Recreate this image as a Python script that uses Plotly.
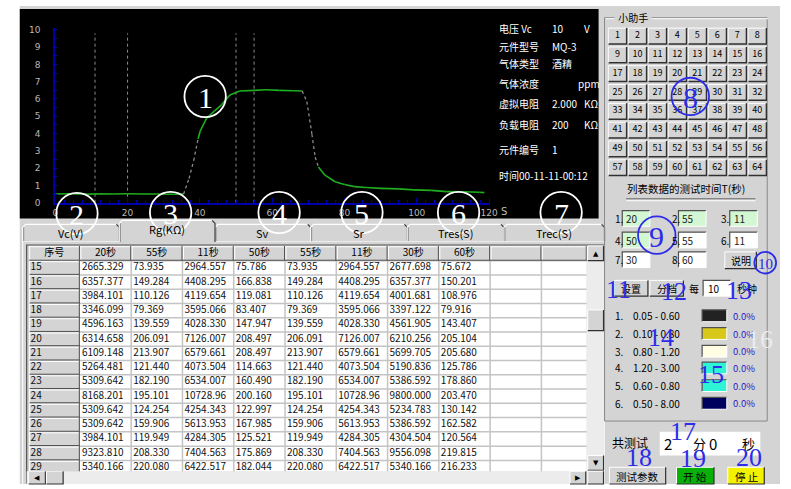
import plotly.graph_objects as go

W, H = 791, 489
FONT = "Noto Sans CJK SC"
SERIF = "Liberation Serif"
GRAY = "#d4d4d4"
MID = "#8a8a8a"
AXBLUE = "#0000a8"
MARK = "#2c2ce8"

# ---------------- data ----------------
t_curve = [0, 4, 8, 12, 16, 20, 24, 28, 32, 35.5, 37, 38.3, 39.5, 40.1, 41.9, 44, 46, 48.3, 51,
           55, 58.3, 62, 66, 68.3, 69.6, 71, 71.9, 72.8, 74.6, 77.4, 80, 82.8, 86, 90.1, 95,
           99.2, 104, 108.3, 113, 117.3, 118.7]
v_curve = [0.5, 0.52, 0.49, 0.51, 0.5, 0.52, 0.5, 0.5, 0.49, 0.5, 1.4, 2.44, 3.7, 4.15, 4.9, 5.3,
           5.66, 6.23, 6.46, 6.5, 6.53, 6.5, 6.48, 6.46, 5.85, 3.96, 2.63, 2.06, 1.59, 1.21, 1.05,
           0.93, 0.88, 0.83, 0.8, 0.74, 0.71, 0.64, 0.63, 0.6, 0.58]
steep_windows = [(35.5, 39.5), (68.3, 72.8)]
marker_times = [11, 20, 50, 55]
x_ticks = [0, 20, 40, 60, 80, 100, 120]
y_ticks = list(range(0, 11))

info_labels = ["电压 Vc", "元件型号", "气体类型", "气体浓度", "虚拟电阻", "负载电阻", "元件编号"]
info_values = ["10", "MQ-3", "酒精", "", "2.000", "200", "1"]
info_units = ["V", "", "", "ppm", "KΩ", "KΩ", ""]
time_text = "时间00-11-11-00:12"

tab_labels = ["Vc(V)", "Rg(KΩ)", "Sv", "Sr", "Tres(S)", "Trec(S)"]
test_times = [20, 55, 11, 50, 55, 11, 30, 60]
test_green = [True, True, True, True, False, False, False, False]

row_ids = [str(i) for i in range(15, 30)]
col_20s = ["2665.329", "6357.377", "3984.101", "3346.099", "4596.163", "6314.658", "6109.148",
           "5264.481", "5309.642", "8168.201", "5309.642", "5309.642", "3984.101", "9323.810", "5340.166"]
col_55s = ["73.935", "149.284", "110.126", "79.369", "139.559", "206.091", "213.907", "121.440",
           "182.190", "195.101", "124.254", "159.906", "119.949", "208.330", "220.080"]
col_11s = ["2964.557", "4408.295", "4119.654", "3595.066", "4028.330", "7126.007", "6579.661",
           "4073.504", "6534.007", "10728.96", "4254.343", "5613.953", "4284.305", "7404.563", "6422.517"]
col_50s = ["75.786", "166.838", "119.081", "83.407", "147.947", "208.497", "208.497", "114.663",
           "160.490", "200.160", "122.997", "167.985", "125.521", "175.869", "182.044"]
col_55s_b = list(col_55s)
col_11s_b = list(col_11s)
col_30s = ["2677.698", "6357.377", "4001.681", "3397.122", "4561.905", "6210.256", "5699.705",
           "5190.836", "5386.592", "9800.000", "5234.783", "5386.592", "4304.504", "9556.098", "5340.166"]
col_60s = ["75.672", "150.201", "108.976", "79.916", "143.407", "205.104", "205.680", "125.786",
           "178.860", "203.470", "130.142", "162.582", "120.564", "219.815", "216.233"]

band_labels = ["0.05 - 0.60", "0.10 - 0.80", "0.80 - 1.20", "1.20 - 3.00", "0.60 - 0.80", "0.50 - 8.00"]
band_colors = ["#222222", "#d8c81c", "#fffde2", "#2ef4d6", "#2ef4d6", "#00005e"]
band_pct = ["0.0%"] * 6

helper_buttons = list(range(1, 65))
interval_sec = "10"
total_min, total_sec = "2", "0"

# ---------------- helpers ----------------
def X(px):
    return px / W


def Y(py):
    return 1 - py / H


shapes, anns = [], []


def rect(x0, y0, x1, y1, fill, line=None, lw=1, layer="below"):
    shapes.append(dict(type="rect", xref="paper", yref="paper", x0=X(x0), x1=X(x1), y0=Y(y1), y1=Y(y0),
                       fillcolor=fill, layer=layer,
                       line=dict(color=line if line else "rgba(0,0,0,0)", width=lw if line else 0)))


def poly(points, color, width=1, dash=None, layer="below"):
    d = "M " + " L ".join(f"{X(x):.5f},{Y(y):.5f}" for x, y in points)
    ln = dict(color=color, width=width)
    if dash:
        ln["dash"] = dash
    shapes.append(dict(type="path", xref="paper", yref="paper", path=d, line=ln, layer=layer))


def raised(x0, y0, x1, y1, fill=GRAY):
    rect(x0, y0, x1, y1, fill)
    poly([(x0, y1), (x0, y0), (x1, y0)], "#ffffff", 1)
    poly([(x0, y1), (x1, y1), (x1, y0)], "#303030", 1.2)


def sunken(x0, y0, x1, y1, fill="white"):
    rect(x0, y0, x1, y1, fill)
    poly([(x0, y1), (x0, y0), (x1, y0)], "#505050", 1.2)
    poly([(x0, y1), (x1, y1), (x1, y0)], "#ffffff", 1)


def txt(x, y, s, size=10, color="black", anchor="left", family=FONT, bg=None):
    a = dict(x=X(x), y=Y(y), xref="paper", yref="paper", text=s, showarrow=False, xanchor=anchor,
             yanchor="middle", font=dict(size=size, color=color, family=family))
    if bg:
        a["bgcolor"] = bg
    anns.append(a)


def circ(cx, cy, r, label, color, size):
    shapes.append(dict(type="circle", xref="paper", yref="paper", x0=X(cx - r), x1=X(cx + r),
                       y0=Y(cy + r), y1=Y(cy - r), line=dict(color=color, width=1.8), layer="above"))
    txt(cx, cy + 1, label, size=size, color=color, anchor="center", family=SERIF)


def dpath(ref_x, ref_y, segs, color, width):
    d = " ".join(f"M {a},{b} L {c},{e}" for a, b, c, e in segs)
    shapes.append(dict(type="path", xref=ref_x, yref=ref_y, path=d, line=dict(color=color, width=width),
                       layer="below"))


# ---------------- backgrounds ----------------
rect(17, 3, 788, 489, GRAY)
rect(17, 6, 604, 219, "#000000")

# ---------------- chart traces ----------------
fig = go.Figure()

for t in marker_times:
    fig.add_trace(go.Scatter(x=[t, t], y=[0, 9.8], mode="lines",
                             line=dict(color="#8c8c8c", width=1, dash="dot"), hoverinfo="skip"))

gx, gy, sx, sy = [], [], [], []
for i in range(len(t_curve) - 1):
    a, b = t_curve[i], t_curve[i + 1]
    steep = any(lo <= a and b <= hi for lo, hi in steep_windows)
    tx, ty = (sx, sy) if steep else (gx, gy)
    tx += [a, b, None]
    ty += [v_curve[i], v_curve[i + 1], None]
fig.add_trace(go.Scatter(x=gx, y=gy, mode="lines", line=dict(color="#1fae1f", width=1.6), hoverinfo="skip"))
fig.add_trace(go.Scatter(x=sx, y=sy, mode="lines", line=dict(color="#8a8a8a", width=1.3, dash="dot"),
                         hoverinfo="skip"))

# black-panel info text
info_y = [26, 44, 62, 82, 102, 124, 149]
for lab, val, unit, yy in zip(info_labels, info_values, info_units, info_y):
    txt(501, yy, lab, 10, "white")
    if val:
        txt(555, yy, val, 10, "white")
    if unit:
        txt(581 if unit == "ppm" else 587, yy, unit, 10, "white")
txt(501, 175, time_text, 10, "white")
txt(503, 212, "S", 10, "#bdbdbd", family="DejaVu Sans")

# ---------------- tabs + table panel ----------------
rect(20, 242, 610, 489, GRAY)
poly([(20, 489), (20, 242), (610, 242)], "#ffffff", 1)
poly([(610, 242), (610, 489)], "#404040", 1)
tab_x = [20, 118, 215, 312, 410, 508, 610]
order = [0, 2, 3, 4, 5, 1]
for i in order:
    x0, x1 = tab_x[i], tab_x[i + 1]
    top, bot = (221, 243) if i == 1 else (225, 242)
    rect(x0, top, x1, bot, GRAY)
    poly([(x0, bot), (x0, top + 3), (x0 + 3, top), (x1 - 3, top)], "#ffffff", 1.2)
    poly([(x1 - 3, top), (x1, top + 3), (x1, bot)], "#404040", 1.2)
    poly([(x0 + 1, bot), (x0 + 1, top + 3)], MID, 1)
    txt((x0 + x1) / 2, top + 9, tab_labels[i], 11, "black", "center")

sunken(24, 246, 610, 489, GRAY)

# ---------------- data grid (hidden axes x3/y3, units = pixels inside grid) ----------------
header = ["序号"] + [f"{t}秒" for t in test_times] + ["", ""]
columns = [row_ids, col_20s, col_55s, col_11s, col_50s, col_55s_b, col_11s_b, col_30s, col_60s,
           [""] * len(row_ids), [""] * len(row_ids)]
col_w = [52] * 10 + [46]
edges = [0]
for w_ in col_w:
    edges.append(edges[-1] + w_)
HEAD_H, ROW_H = 15, 14.5
GRID_H = 229
nrow = len(row_ids)
row_top = [HEAD_H + i * ROW_H for i in range(nrow)]

shapes.append(dict(type="rect", xref="x3", yref="y3", x0=0, x1=edges[-1], y0=0, y1=HEAD_H, fillcolor=GRAY,
                   line=dict(width=0), layer="below"))
shapes.append(dict(type="rect", xref="x3", yref="y3", x0=edges[1], x1=edges[-1], y0=HEAD_H, y1=GRID_H + 20,
                   fillcolor="white", line=dict(width=0), layer="below"))
shapes.append(dict(type="rect", xref="x3", yref="y3", x0=0, x1=edges[1], y0=HEAD_H, y1=GRID_H + 20,
                   fillcolor=GRAY, line=dict(width=0), layer="below"))
# white-cell grid
dpath("x3", "y3", [(edges[1], y, edges[-1], y) for y in row_top + [row_top[-1] + ROW_H]], "#c4c4c4", 1.5)
dpath("x3", "y3", [(e, HEAD_H, e, GRID_H + 20) for e in edges[2:-1]], "#c4c4c4", 1.5)
# raised header cells and id cells
dpath("x3", "y3", [(e + 1, 1, e + 1, HEAD_H - 1) for e in edges[:-1]] + [(0, 0.8, edges[-1], 0.8)], "#ffffff", 1)
dpath("x3", "y3", [(e - 0.5, 0, e - 0.5, HEAD_H) for e in edges[1:]] + [(0, HEAD_H - 0.5, edges[-1], HEAD_H - 0.5)],
      "#505050", 1)
dpath("x3", "y3", [(1, y + 1, edges[1] - 1, y + 1) for y in row_top] + [(1, HEAD_H, 1, GRID_H + 20)], "#ffffff", 1)
dpath("x3", "y3", [(1, y + ROW_H - 0.6, edges[1] - 0.5, y + ROW_H - 0.6) for y in row_top] +
      [(edges[1] - 0.6, HEAD_H, edges[1] - 0.6, GRID_H + 20)], "#505050", 1)

fig.add_trace(go.Scatter(x=[(edges[k] + edges[k + 1]) / 2 for k in range(len(header))], y=[HEAD_H / 2] * len(header),
                         mode="text", text=header, textposition="middle center",
                         textfont=dict(size=10, color="black", family=FONT), xaxis="x3", yaxis="y3",
                         hoverinfo="skip"))
gxs, gys, gts = [], [], []
for k, col in enumerate(columns):
    for r, v in enumerate(col):
        if v:
            gxs.append(edges[k] + 2)
            gys.append(row_top[r] + ROW_H / 2)
            gts.append(v)
fig.add_trace(go.Scatter(x=gxs, y=gys, mode="text", text=gts, textposition="middle right",
                         textfont=dict(size=10, color="#111111", family=FONT), xaxis="x3", yaxis="y3",
                         hoverinfo="skip"))

# scrollbars
rect(592, 247, 610, 476, "#ececec")
raised(593, 247, 609, 262)
txt(601, 255, "▲", 7, "black", "center", "DejaVu Sans")
raised(593, 312, 609, 333)
raised(593, 460, 609, 475)
txt(601, 468, "▼", 7, "black", "center", "DejaVu Sans")
rect(24, 476, 592, 489, "#ececec")
raised(26, 476, 43, 489)
txt(34.5, 483, "◀", 7, "black", "center", "DejaVu Sans")
raised(44, 476, 61, 489)
raised(575, 476, 591, 489)
txt(583, 483, "▶", 7, "black", "center", "DejaVu Sans")
raised(593, 476, 609, 489)

# ---------------- right panel ----------------
poly([(610, 15), (775, 15), (775, 425), (610, 425), (610, 15)], MID, 1)
poly([(611, 16), (776, 16)], "#ffffff", 1)
txt(620, 15, " 小助手 ", 10, "black", bg=GRAY)

ncol = 8
bx = [(n - 1) % ncol for n in helper_buttons]
by = [(n - 1) // ncol for n in helper_buttons]
dark_path, light_path = [], []
for c, r in zip(bx, by):
    shapes.append(dict(type="rect", xref="x2", yref="y2", x0=c - 0.46, x1=c + 0.46, y0=r - 0.42, y1=r + 0.42,
                       fillcolor=GRAY, line=dict(width=0), layer="below"))
    light_path.append(f"M {c-0.46},{r+0.42} L {c-0.46},{r-0.42} L {c+0.46},{r-0.42}")
    dark_path.append(f"M {c-0.44},{r+0.42} L {c+0.46},{r+0.42} L {c+0.46},{r-0.42}")
shapes.append(dict(type="path", xref="x2", yref="y2", path=" ".join(light_path),
                   line=dict(color="#ffffff", width=1), layer="below"))
shapes.append(dict(type="path", xref="x2", yref="y2", path=" ".join(dark_path),
                   line=dict(color="#303030", width=1.5), layer="below"))
fig.add_trace(go.Scatter(x=bx, y=by, mode="text", text=[str(n) for n in helper_buttons],
                         textfont=dict(size=9, color="black", family=FONT), xaxis="x2", yaxis="y2",
                         hoverinfo="skip"))

txt(693, 189, "列表数据的测试时间T(秒)", 10.5, "black", "center")
poly([(632, 199), (763, 199)], "#6a6a6a", 1.2)
poly([(632, 201), (763, 201)], "#ffffff", 1)

lab_x = [619, 676, 726]
box_x = [628, 685, 737]
row_y = [211, 233, 253]
for k, (t, g) in enumerate(zip(test_times, test_green)):
    r, c = divmod(k, 3)
    sunken(box_x[c], row_y[r], box_x[c] + 28, row_y[r] + 16, "#d2f7d2" if g else "white")
    txt(lab_x[c], row_y[r] + 8, f"{k + 1}.", 10)
    txt(box_x[c] + 2, row_y[r] + 8, str(t), 10, "#222222")
raised(732, 253, 764, 270)
txt(748, 261.5, "说明", 10, "black", "center")

raised(620, 282, 654, 298)
txt(637, 290, "设置", 10, "black", "center")
raised(656, 282, 690, 298)
txt(673, 290, "分档", 10, "black", "center")
txt(694, 290, "每", 10)
sunken(710, 282, 738, 298, "white")
txt(713, 290, interval_sec, 10)
txt(742, 290, "秒钟", 10)

band_y = [318, 336, 354, 371, 389, 407]
for k, (lab, col, pct, yy) in enumerate(zip(band_labels, band_colors, band_pct, band_y)):
    txt(619, yy, f"{k + 1}.", 10)
    txt(637, yy, lab, 10)
    sunken(709, yy - 6, 734, yy + 6, col)
    txt(738, yy, pct, 9.5, "#2323c8")

txt(616, 447, "共测试", 12)
rect(666, 436, 768, 460, "white")
txt(668, 448, total_min, 15)
txt(698, 448, "分", 13)
txt(714, 448, total_sec, 15)
txt(747, 448, "秒", 13)

raised(615, 472, 672, 489)
txt(643.5, 481, "测试参数", 10.5, "black", "center")
raised(683, 472, 721, 489, "#08b008")
txt(702, 481, "开 始", 10.5, "black", "center")
raised(735, 472, 772, 489, "#f2f200")
txt(753.5, 481, "停 止", 10.5, "black", "center")

# ---------------- annotation marks (circled numbers) ----------------
for lab, cx, cy in [("1", 205, 95), ("2", 75, 214), ("3", 170, 213), ("4", 280, 213), ("5", 364, 213),
                    ("6", 462, 213), ("7", 566, 213)]:
    circ(cx, cy, 21, lab, "white", 30)
circ(697, 95, 19, "8", MARK, 30)
circ(663, 236, 19, "9", MARK, 30)
circ(773, 264, 11, "10", MARK, 15)
for lab, cx, cy, col in [("11", 624, 291, MARK), ("12", 680, 293, MARK), ("13", 746, 292, MARK),
                         ("14", 667, 340, MARK), ("15", 718, 378, MARK), ("16", 768, 342, "#ececec"),
                         ("17", 690, 436, MARK), ("18", 645, 462, MARK), ("19", 700, 463, MARK),
                         ("20", 757, 462, MARK)]:
    txt(cx, cy, lab, 26, col, "center", SERIF)

# ---------------- layout ----------------
fig.update_layout(
    width=W, height=H, autosize=False, margin=dict(l=0, r=0, t=0, b=0),
    paper_bgcolor="white", plot_bgcolor="rgba(0,0,0,0)", showlegend=False,
    shapes=shapes, annotations=anns,
    xaxis=dict(domain=[X(53), X(494)], range=[0, 120.3], tickvals=x_ticks, showgrid=False, zeroline=False,
               showline=True, linecolor=AXBLUE, linewidth=2, ticks="inside", ticklen=5, tickcolor=AXBLUE,
               tickwidth=1, minor=dict(dtick=2.5, ticks="inside", ticklen=3, tickcolor=AXBLUE),
               tickfont=dict(size=9, color="#b8b8b8", family="DejaVu Sans"), ticklabelstandoff=1,
               fixedrange=True, anchor="y"),
    yaxis=dict(domain=[Y(203), Y(25)], range=[0, 10.13], tickvals=y_ticks, showgrid=False, zeroline=False,
               showline=True, linecolor=AXBLUE, linewidth=2, ticks="inside", ticklen=3, tickcolor=AXBLUE,
               minor=dict(dtick=0.5, ticks="inside", ticklen=3, tickcolor=AXBLUE),
               tickfont=dict(size=9, color="#b8b8b8", family="DejaVu Sans"), ticklabelstandoff=11,
               fixedrange=True, anchor="x"),
    xaxis2=dict(domain=[X(613), X(775)], range=[-0.5, 7.5], visible=False, anchor="y2", fixedrange=True),
    yaxis2=dict(domain=[Y(177), Y(24)], range=[7.5, -0.5], visible=False, anchor="x2", fixedrange=True),
    xaxis3=dict(domain=[X(26), X(592)], range=[0, edges[-1]], visible=False, anchor="y3", fixedrange=True),
    yaxis3=dict(domain=[Y(476), Y(247)], range=[GRID_H, 0], visible=False, anchor="x3", fixedrange=True),
)

fig.write_html("out.html", config={"displayModeBar": False},
               post_script="document.body.style.margin='0px';document.body.style.overflow='hidden';")
